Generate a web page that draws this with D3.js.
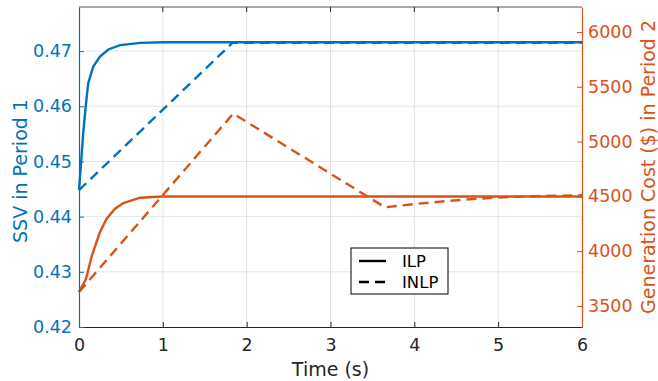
<!DOCTYPE html>
<html>
<head>
<meta charset="utf-8">
<script src="https://cdn.jsdelivr.net/npm/d3@7"></script>
<style>
  body { margin: 0; background: #fff; }
  svg { display: block; font-family: "DejaVu Sans", Verdana, sans-serif; }
</style>
</head>
<body>
<div id="chart"></div>
<script>
// time ticks and axis ticks
const xTicks = [0, 1, 2, 3, 4, 5, 6];
const ssvTicks = [0.42, 0.43, 0.44, 0.45, 0.46, 0.47];
const costTicks = [3500, 4000, 4500, 5000, 5500, 6000];

// SSV in period 1 (left axis)
const ilpSsvT = [0, 0.03, 0.05, 0.08, 0.11, 0.17, 0.25, 0.35, 0.49, 0.73, 1.0, 6];
const ilpSsv = [0.4448, 0.4509, 0.4551, 0.4600, 0.4642, 0.4672, 0.4690, 0.4703, 0.4711, 0.4715, 0.4716, 0.4716];
const inlpSsvT = [0, 1.83, 6];
const inlpSsv = [0.4448, 0.4715, 0.4715];

// generation cost in period 2 (right axis)
const ilpCostT = [0, 0.083, 0.15, 0.25, 0.33, 0.43, 0.53, 0.73, 1.0, 6];
const ilpCost = [3627, 3745, 3950, 4176, 4297, 4388, 4439, 4488, 4499, 4499];
const inlpCostT = [0, 1.84, 3.65, 4.0, 4.5, 5.0, 5.5, 6];
const inlpCost = [3627, 5255, 4400, 4430, 4465, 4490, 4503, 4510];

const W = 658, H = 381;
const margin = { top: 7, right: 76, bottom: 54, left: 79 };
const width = W - margin.left - margin.right;
const height = H - margin.top - margin.bottom;

const blue = "#0072BD", orange = "#D95319", dark = "#262626";

const svg = d3.select("#chart").append("svg")
  .attr("width", W).attr("height", H)
  .append("g")
  .attr("transform", `translate(${margin.left},${margin.top})`);

const x = d3.scaleLinear().domain([0, 6]).range([0, width]);
const yL = d3.scaleLinear().domain([0.42, 0.478]).range([height, 0]);
const yR = d3.scaleLinear().domain([3308, 6228]).range([height, 0]);

// grid
svg.append("g").selectAll("line").data(ssvTicks.slice(1)).join("line")
  .attr("x1", 0).attr("x2", width)
  .attr("y1", d => yL(d)).attr("y2", d => yL(d))
  .attr("stroke", "#dde8f1").attr("stroke-width", 1);
svg.append("g").selectAll("line").data(xTicks.slice(1, -1)).join("line")
  .attr("x1", d => x(d)).attr("x2", d => x(d))
  .attr("y1", 0).attr("y2", height)
  .attr("stroke", "#e2e2e2").attr("stroke-width", 1);

// lines
function drawLine(tt, vv, yScale, color, dash) {
  const pts = tt.map((t, i) => [t, vv[i]]);
  svg.append("path")
    .datum(pts)
    .attr("fill", "none")
    .attr("stroke", color)
    .attr("stroke-width", 2.4)
    .attr("stroke-dasharray", dash)
    .attr("d", d3.line().x(d => x(d[0])).y(d => yScale(d[1])));
}
drawLine(ilpSsvT, ilpSsv, yL, blue, null);
drawLine(inlpSsvT, inlpSsv, yL, blue, "10,6");
drawLine(ilpCostT, ilpCost, yR, orange, null);
drawLine(inlpCostT, inlpCost, yR, orange, "10,6");

// bottom axis
const xAxis = svg.append("g")
  .attr("transform", `translate(0,${height})`)
  .call(d3.axisBottom(x).tickValues(xTicks).tickFormat(d3.format("d"))
    .tickSizeInner(-5).tickSizeOuter(0).tickPadding(12));
xAxis.select(".domain").attr("stroke", dark);
xAxis.selectAll(".tick line").attr("stroke", dark);
xAxis.selectAll("text").attr("fill", dark).attr("font-size", 17.5)
  .attr("font-family", "DejaVu Sans");

// top border with ticks
svg.append("line").attr("x1", 0).attr("x2", width).attr("y1", 0).attr("y2", 0)
  .attr("stroke", "#555").attr("stroke-width", 1);
svg.append("g").selectAll("line").data(xTicks.slice(1, -1)).join("line")
  .attr("x1", d => x(d)).attr("x2", d => x(d)).attr("y1", 0).attr("y2", 5)
  .attr("stroke", dark);

// left axis
const lAxis = svg.append("g")
  .call(d3.axisLeft(yL).tickValues(ssvTicks).tickFormat(d3.format(".2f"))
    .tickSizeInner(-5).tickSizeOuter(0).tickPadding(7));
lAxis.select(".domain").attr("stroke", blue).attr("stroke-width", 1.2);
lAxis.selectAll(".tick line").attr("stroke", blue);
lAxis.selectAll("text").attr("fill", blue).attr("font-size", 17.5)
  .attr("font-family", "DejaVu Sans");

// right axis
const rAxis = svg.append("g")
  .attr("transform", `translate(${width},0)`)
  .call(d3.axisRight(yR).tickValues(costTicks).tickFormat(d3.format("d"))
    .tickSizeInner(-5).tickSizeOuter(0).tickPadding(6));
rAxis.select(".domain").attr("stroke", orange).attr("stroke-width", 1.2);
rAxis.selectAll(".tick line").attr("stroke", orange);
rAxis.selectAll("text").attr("fill", orange).attr("font-size", 17.5)
  .attr("font-family", "DejaVu Sans");

// axis titles
svg.append("text")
  .attr("transform", `translate(${-52},${height / 2 + 4}) rotate(-90)`)
  .attr("text-anchor", "middle")
  .attr("fill", blue).attr("font-size", 19)
  .text("SSV in Period 1");
svg.append("text")
  .attr("transform", `translate(${width + 73},${height / 2}) rotate(-90)`)
  .attr("text-anchor", "middle")
  .attr("fill", orange).attr("font-size", 19)
  .text("Generation Cost ($) in Period 2");
svg.append("text")
  .attr("x", width / 2).attr("y", height + 49)
  .attr("text-anchor", "middle")
  .attr("fill", dark).attr("font-size", 19)
  .text("Time (s)");

// legend
const legendItems = [{ name: "ILP", dash: null }, { name: "INLP", dash: "10,6" }];
const lg = svg.append("g").attr("transform", `translate(${351 - margin.left},${248 - margin.top})`);
lg.append("rect").attr("width", 97).attr("height", 46)
  .attr("fill", "#fff").attr("stroke", "#000").attr("stroke-width", 1);
legendItems.forEach((d, i) => {
  const yy = 13 + i * 21;
  lg.append("line").attr("x1", 8).attr("x2", 35).attr("y1", yy).attr("y2", yy)
    .attr("stroke", "#000").attr("stroke-width", 2.4).attr("stroke-dasharray", d.dash);
  lg.append("text").attr("x", 51).attr("y", yy).attr("dy", "0.35em")
    .attr("font-size", 16.5).attr("fill", "#000").text(d.name);
});
</script>
</body>
</html>
